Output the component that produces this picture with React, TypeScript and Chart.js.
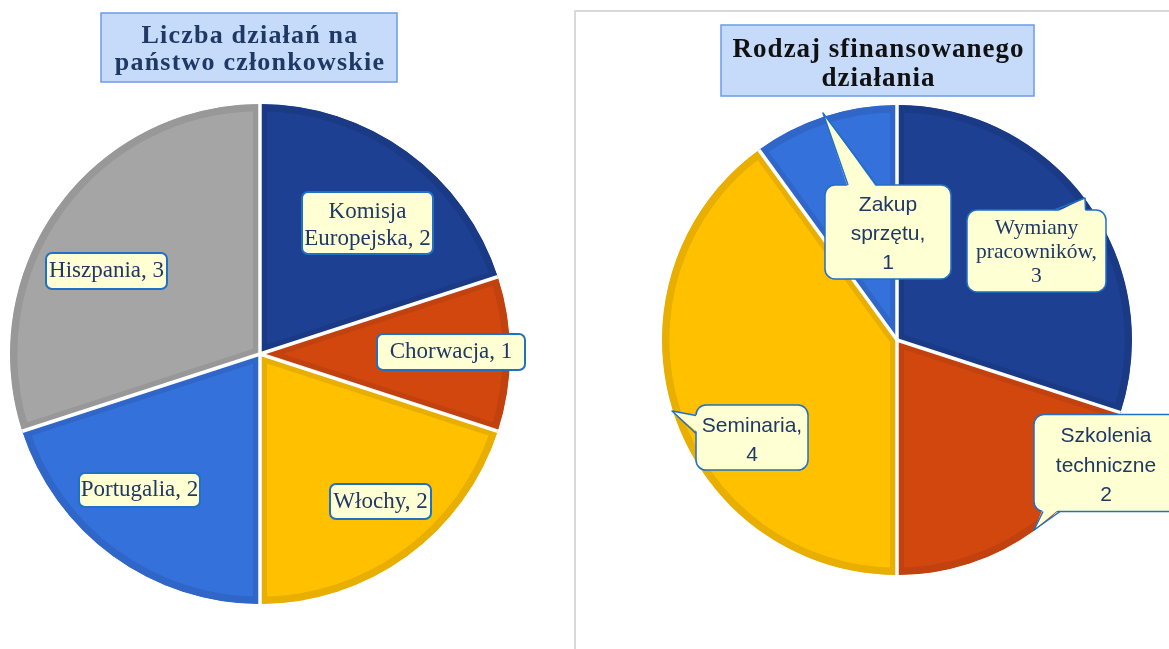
import React, { useEffect, useRef } from 'react';
import { Chart, registerables } from 'chart.js';

Chart.register(...registerables);

// ---------- data ----------
const leftTitle = ['Liczba działań na', 'państwo członkowskie'];
const leftCategories = ['Komisja Europejska', 'Chorwacja', 'Włochy', 'Portugalia', 'Hiszpania'];
const leftValues = [2, 1, 2, 2, 3];

const rightTitle = ['Rodzaj sfinansowanego', 'działania'];
const rightCategories = ['Wymiany pracowników', 'Szkolenia techniczne', 'Seminaria', 'Zakup sprzętu'];
const rightValues = [3, 2, 4, 1];

// ---------- styles ----------
const DARK_BLUE = '#1E4092';
const ORANGE = '#D1470E';
const YELLOW = '#FFC000';
const BLUE = '#3471DA';
const GRAY = '#A5A5A5';

const leftFill = [DARK_BLUE, ORANGE, YELLOW, BLUE, GRAY];
const leftRim = ['#1A3A86', '#C1420F', '#E8AE00', '#2F66C8', '#989898'];
const rightFill = [DARK_BLUE, ORANGE, YELLOW, BLUE];
const rightRim = ['#1A3A86', '#C1420F', '#E8AE00', '#2F66C8'];

const SERIF = "'Liberation Serif', 'Times New Roman', serif";
const SANS = "'Liberation Sans', Arial, sans-serif";
const NAVY = '#1F3864';
const LABEL_FILL = '#FFFFD4';
const LABEL_BORDER = '#2070C4';

type LabelStyle = {
  fx: number; fy: number; w: number; h: number; r: number;
  breaks: number[]; sep?: string; font: string; lh: number; dy?: number; lw: number;
  pointer?: { tfx: number; tfy: number; b1: [number, number]; b2: [number, number]; side: 'top' | 'bottom' | 'left' | 'right' };
};

const leftLabelStyles: LabelStyle[] = [
  { fx: 0.43, fy: -0.524, w: 131, h: 62, r: 6, breaks: [1], font: `23px ${SERIF}`, lh: 27, dy: 2, lw: 2 },
  { fx: 0.764, fy: -0.008, w: 148, h: 36, r: 6, breaks: [], font: `23px ${SERIF}`, lh: 27, lw: 2 },
  { fx: 0.482, fy: 0.59, w: 101, h: 35, r: 6, breaks: [], font: `23px ${SERIF}`, lh: 27, lw: 2 },
  { fx: -0.482, fy: 0.544, w: 121, h: 34, r: 6, breaks: [], font: `23px ${SERIF}`, lh: 27, lw: 2 },
  { fx: -0.614, fy: -0.332, w: 121, h: 36, r: 6, breaks: [], font: `23px ${SERIF}`, lh: 27, lw: 2 },
];

const rightLabelStyles: LabelStyle[] = [
  {
    fx: 0.5936, fy: -0.3787, w: 139, h: 82, r: 10, breaks: [1, 2], font: `21.5px ${SERIF}`, lh: 24, dy: 1, lw: 1.5,
    pointer: { tfx: 0.8, tfy: -0.604, b1: [18, -41], b2: [49, -41], side: 'top' },
  },
  {
    fx: 0.8894, fy: 0.5234, w: 144, h: 97, r: 10, breaks: [1, 2], sep: ' ', font: `21px ${SANS}`, lh: 29.5, dy: 3, lw: 1.5,
    pointer: { tfx: 0.583, tfy: 0.8085, b1: [-63, 48.5], b2: [-46, 48.5], side: 'bottom' },
  },
  {
    fx: -0.617, fy: 0.415, w: 112, h: 65, r: 10, breaks: [1], font: `21px ${SANS}`, lh: 29, dy: 3, lw: 1.5,
    pointer: { tfx: -0.9574, tfy: 0.302, b1: [-56, -22], b2: [-56, -4], side: 'left' },
  },
  {
    fx: -0.0383, fy: -0.4596, w: 126, h: 94, r: 10, breaks: [1, 2], font: `21px ${SANS}`, lh: 29, dy: 2, lw: 1.5,
    pointer: { tfx: -0.315, tfy: -0.966, b1: [-40, -47], b2: [-11, -47], side: 'top' },
  },
];

// title box in canvas coordinates; baselines are absolute y positions
type TitleStyle = { x: number; y: number; w: number; h: number; font: string; color: string; spacing: string; baselines: number[] };

const leftTitleStyle: TitleStyle = { x: 101, y: 13, w: 296, h: 69, font: `bold 26px ${SERIF}`, color: NAVY, spacing: '1.2px', baselines: [43, 70] };
const rightTitleStyle: TitleStyle = { x: 721 - 573, y: 25, w: 313, h: 71, font: `bold 27px ${SERIF}`, color: '#111111', spacing: '1px', baselines: [57, 86] };

function buildLines(cat: string, val: number, st: LabelStyle): string[] {
  const text = st.sep !== undefined ? `${cat}${st.sep}${val}` : `${cat}, ${val}`;
  const words = text.split(' ');
  const lines: string[] = [];
  let cur: string[] = [];
  words.forEach((w, i) => {
    if (st.breaks.includes(i) && cur.length) {
      lines.push(cur.join(' '));
      cur = [];
    }
    cur.push(w);
  });
  if (cur.length) lines.push(cur.join(' '));
  return lines;
}

function drawCallout(ctx: CanvasRenderingContext2D, cx: number, cy: number, R: number, st: LabelStyle, lines: string[]) {
  const bx0 = cx + st.fx * R;
  const by0 = cy + st.fy * R;
  const bx = bx0 - st.w / 2;
  const by = by0 - st.h / 2;
  ctx.save();
  ctx.lineWidth = st.lw;
  ctx.strokeStyle = LABEL_BORDER;
  ctx.fillStyle = LABEL_FILL;
  ctx.lineJoin = 'round';
  ctx.beginPath();
  (ctx as any).roundRect(bx, by, st.w, st.h, st.r);
  ctx.fill();
  ctx.stroke();
  if (st.pointer) {
    const p = st.pointer;
    const tip = [cx + p.tfx * R, cy + p.tfy * R];
    const b1 = [bx0 + p.b1[0], by0 + p.b1[1]];
    const b2 = [bx0 + p.b2[0], by0 + p.b2[1]];
    const d = st.lw + 1.5;
    const sh = p.side === 'top' ? [0, d] : p.side === 'bottom' ? [0, -d] : p.side === 'left' ? [d, 0] : [-d, 0];
    ctx.beginPath();
    ctx.moveTo(b1[0] + sh[0], b1[1] + sh[1]);
    ctx.lineTo(tip[0], tip[1]);
    ctx.lineTo(b2[0] + sh[0], b2[1] + sh[1]);
    ctx.closePath();
    ctx.fill();
    ctx.beginPath();
    ctx.moveTo(b1[0], b1[1]);
    ctx.lineTo(tip[0], tip[1]);
    ctx.lineTo(b2[0], b2[1]);
    ctx.stroke();
  }
  ctx.fillStyle = NAVY;
  ctx.font = st.font;
  ctx.textAlign = 'center';
  ctx.textBaseline = 'middle';
  const n = lines.length;
  lines.forEach((ln, i) => {
    const y = by0 + (st.dy || 0) + (i - (n - 1) / 2) * st.lh;
    ctx.fillText(ln, bx0, y);
  });
  ctx.restore();
}

function drawTitle(ctx: CanvasRenderingContext2D, t: TitleStyle, lines: string[]) {
  ctx.save();
  ctx.fillStyle = '#C6DAFA';
  ctx.strokeStyle = '#6C9BEA';
  ctx.lineWidth = 1.5;
  ctx.fillRect(t.x, t.y, t.w, t.h);
  ctx.strokeRect(t.x, t.y, t.w, t.h);
  ctx.fillStyle = t.color;
  ctx.font = t.font;
  (ctx as any).letterSpacing = t.spacing;
  ctx.textAlign = 'center';
  ctx.textBaseline = 'alphabetic';
  lines.forEach((ln, i) => ctx.fillText(ln, t.x + t.w / 2 + 1, t.baselines[i]));
  ctx.restore();
}

function makeOverlay(key: string, categories: string[], values: number[], labelStyles: LabelStyle[], title: string[], titleStyle: TitleStyle, frame: boolean) {
  return {
    id: 'overlay_' + key,
    beforeDraw(chart: any) {
      if (!frame) return;
      const ctx: CanvasRenderingContext2D = chart.ctx;
      ctx.save();
      ctx.strokeStyle = '#D9D9D9';
      ctx.lineWidth = 2;
      ctx.beginPath();
      ctx.moveTo(2, chart.height);
      ctx.lineTo(2, 11);
      ctx.lineTo(chart.width, 11);
      ctx.stroke();
      ctx.restore();
    },
    afterDatasetsDraw(chart: any) {
      const ctx: CanvasRenderingContext2D = chart.ctx;
      const arcs = chart.getDatasetMeta(0).data;
      const a0 = arcs[0].getProps(['x', 'y', 'outerRadius'], true);
      const cx = a0.x, cy = a0.y, R = a0.outerRadius;
      ctx.save();
      ctx.strokeStyle = '#FFFFFF';
      ctx.lineWidth = 3.5;
      arcs.forEach((a: any) => {
        const { startAngle } = a.getProps(['startAngle'], true);
        ctx.beginPath();
        ctx.moveTo(cx, cy);
        ctx.lineTo(cx + R * Math.cos(startAngle), cy + R * Math.sin(startAngle));
        ctx.stroke();
      });
      ctx.restore();
      categories.forEach((c, i) => {
        drawCallout(ctx, cx, cy, R, labelStyles[i], buildLines(c, values[i], labelStyles[i]));
      });
      drawTitle(ctx, titleStyle, title);
    },
  };
}

function makePie(canvas: HTMLCanvasElement, key: string, categories: string[], values: number[], fill: string[], rim: string[], padding: any, labelStyles: LabelStyle[], title: string[], titleStyle: TitleStyle, frame: boolean) {
  return new Chart(canvas, {
    type: 'pie',
    data: {
      labels: categories,
      datasets: [
        {
          data: values,
          backgroundColor: fill,
          borderColor: rim,
          borderWidth: 7,
          borderAlign: 'inner',
        } as any,
      ],
    },
    options: {
      responsive: false,
      animation: false,
      layout: { padding },
      plugins: { legend: { display: false }, tooltip: { enabled: false }, title: { display: false } },
      events: [],
    } as any,
    plugins: [makeOverlay(key, categories, values, labelStyles, title, titleStyle, frame)],
  });
}

export default function App() {
  const leftRef = useRef<HTMLCanvasElement>(null);
  const rightRef = useRef<HTMLCanvasElement>(null);

  useEffect(() => {
    const l = makePie(leftRef.current!, 'l', leftCategories, leftValues, leftFill, leftRim,
      { left: 10, right: 65, top: 104, bottom: 45 }, leftLabelStyles, leftTitle, leftTitleStyle, false);
    const r = makePie(rightRef.current!, 'r', rightCategories, rightValues, rightFill, rightRim,
      { left: 89, right: 37, top: 105, bottom: 74 }, rightLabelStyles, rightTitle, rightTitleStyle, true);
    return () => {
      l.destroy();
      r.destroy();
    };
  }, []);

  return (
    <div style={{ position: 'fixed', left: 0, top: 0, width: 1169, height: 649, background: '#FFFFFF', overflow: 'hidden' }}>
      <canvas ref={leftRef} width={575} height={649} style={{ position: 'absolute', left: 0, top: 0, width: 575, height: 649 }} />
      <canvas ref={rightRef} width={596} height={649} style={{ position: 'absolute', left: 573, top: 0, width: 596, height: 649 }} />
    </div>
  );
}
